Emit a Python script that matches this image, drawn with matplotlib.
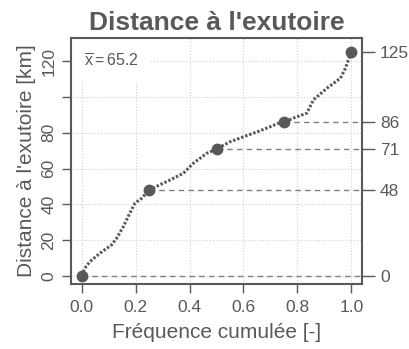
import numpy as np
import matplotlib
matplotlib.use('Agg')
import matplotlib.pyplot as plt
from matplotlib.patches import Rectangle

plt.rcParams['font.family'] = ['Liberation Sans', 'DejaVu Sans']
plt.rcParams['mathtext.fontset'] = 'custom'
plt.rcParams['mathtext.rm'] = 'Liberation Sans'
plt.rcParams['mathtext.it'] = 'Liberation Sans'

# values
freq = [0, 0.011, 0.03, 0.067, 0.11, 0.129, 0.154, 0.178, 0.197, 0.222, 0.25,
        0.29, 0.327, 0.377, 0.414, 0.463, 0.5, 0.55, 0.6, 0.662, 0.687, 0.73,
        0.75, 0.786, 0.835, 0.86, 0.91, 0.96, 0.978, 1.0]
dist = [0, 4.3, 8, 12.7, 17.3, 21, 27.5, 35, 40.6, 43.4, 48,
        51, 53.6, 57.4, 63, 68.5, 71, 75, 77.8, 81.2, 82.7, 85.3,
        86, 88.3, 91, 98.5, 105, 110.6, 116, 125]

quart_x = [0, 0.25, 0.5, 0.75, 1.0]
quart_y = [0, 48, 71, 86, 125]
mean_val = 65.2

x_ticks = [0.0, 0.2, 0.4, 0.6, 0.8, 1.0]
y_ticks = [0, 20, 40, 60, 80, 100, 120]
y_labels = ['0', '20', '40', '60', '80', '', '120']

col = '#595959'
fig = plt.figure(figsize=(4.1, 3.49), dpi=100)
ax = fig.add_axes([0.1732, 0.1862, 0.7098, 0.7048])

ax.set_xlim(-0.04, 1.04)
ax.set_ylim(-4.5, 133)

for xv in x_ticks:
    ax.axvline(xv, color='#d0d0d0', lw=0.8, ls=':', zorder=0)
for yv in y_ticks:
    ax.axhline(yv, color='#d0d0d0', lw=0.8, ls=':', zorder=0)

# white box behind the mean label
ax.add_patch(Rectangle((0, 0.817), 0.275, 0.183, transform=ax.transAxes,
                       facecolor='white', edgecolor='none', zorder=1))
ax.text(0.045, 0.906, r'$\overline{\mathrm{x}}=%.1f$' % mean_val,
        transform=ax.transAxes, ha='left', va='center', fontsize=11.5,
        color=col, zorder=2)

# dashed lines from quartile points to the right axis
for qx, qy in zip(quart_x[:-1], quart_y[:-1]):
    ax.plot([qx, 1.04], [qy, qy], color='#808080', lw=1, ls=(0, (4, 3)), zorder=2)

ax.plot(freq, dist, color=col, lw=2.2, ls=(0, (0.8, 0.6)), zorder=3)
ax.plot(quart_x, quart_y, 'o', color=col, ms=7.5, zorder=4)

for s in ax.spines.values():
    s.set_color(col)
    s.set_linewidth(1.5)

ax.set_xticks(x_ticks)
ax.set_xticklabels(['%.1f' % v for v in x_ticks])
ax.set_yticks(y_ticks)
ax.set_yticklabels(y_labels, rotation=90, va='center')
ax.tick_params(axis='both', colors=col, labelcolor=col, labelsize=12.5,
               length=6.5, width=1, direction='out')
ax.tick_params(axis='x', pad=5)
ax.tick_params(axis='y', pad=4)

ax2 = ax.twinx()
ax2.set_ylim(ax.get_ylim())
ax2.set_yticks(quart_y)
ax2.set_yticklabels([str(v) for v in quart_y])
ax2.tick_params(axis='y', colors=col, labelcolor=col, labelsize=12.5,
                length=9, width=1, direction='out', pad=4)
for s in ax2.spines.values():
    s.set_visible(False)

ax.set_title("Distance à l'exutoire", fontsize=19, fontweight='bold',
             color=col, pad=6)
ax.set_xlabel('Fréquence cumulée [-]', fontsize=15, color=col, labelpad=6)
ax.set_ylabel("Distance à l'exutoire [km]", fontsize=15, color=col, labelpad=4)

fig.savefig('out.png', dpi=100)
